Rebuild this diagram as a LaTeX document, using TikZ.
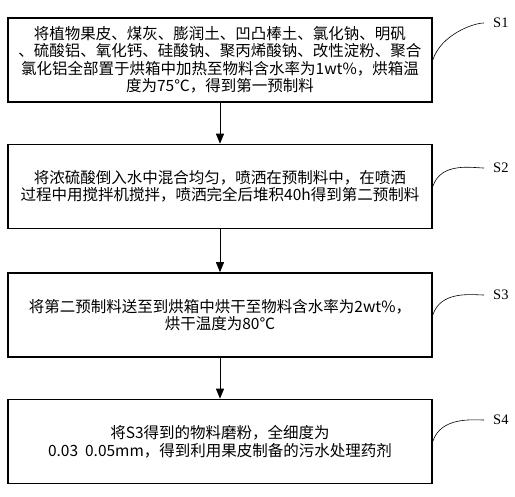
\documentclass[tikz,border=0pt]{standalone}
\usepackage{fontspec}
\setmainfont{Liberation Serif}
\newfontfamily\cjk{Noto Sans CJK SC}
\usetikzlibrary{arrows.meta}

\begin{document}
\begin{tikzpicture}[
    x=1pt, y=-1pt,
    stepbox/.style={
        draw=black,
        line width=1.6pt,
        minimum width=424pt,
        minimum height=84pt,
        align=center,
        inner sep=4pt,
        font=\cjk\fontsize{15.5}{17.5}\selectfont
    },
    flow/.style={
        -{Triangle[width=8pt,length=10pt]},
        draw=black,
        line width=0.8pt
    },
    leader/.style={
        draw=black,
        line width=0.6pt,
        shorten >=9pt
    },
    steplabel/.style={
        anchor=west,
        inner sep=0pt,
        font=\fontsize{14.5}{16}\selectfont
    }
]
    \useasboundingbox (0,0) rectangle (515,497);

    \node[stepbox] (s1) at (220,60)
        {将植物果皮、煤灰、膨润土、凹凸棒土、氯化钠、明矾\\
         {、}硫酸铝、氧化钙、硅酸钠、聚丙烯酸钠、改性淀粉、聚合\\
         氯化铝全部置于烘箱中加热至物料含水率为1wt\%，烘箱温\\
         度为75℃，得到第一预制料};
    \node[stepbox] (s2) at (220,186.5)
        {将浓硫酸倒入水中混合均匀，喷洒在预制料中，在喷洒\\
         过程中用搅拌机搅拌，喷洒完全后堆积40h得到第二预制料};
    \node[stepbox] (s3) at (220,315)
        {将第二预制料送至到烘箱中烘干至物料含水率为2wt\%，\\
         烘干温度为80℃};
    \node[stepbox] (s4) at (220,441.5)
        {将S3得到的物料磨粉，全细度为\\
         0.03\ \ 0.05mm，得到利用果皮制备的污水处理药剂};

    \node[steplabel] (l1) at (493,23) {S1};
    \node[steplabel] (l2) at (493,168) {S2};
    \node[steplabel] (l3) at (493,295) {S3};
    \node[steplabel] (l4) at (493,420) {S4};

    \draw[flow] (s1.south) -- (s2.north);
    \draw[flow] (s2.south) -- (s3.north);
    \draw[flow] (s3.south) -- (s4.north);

    \draw[leader] (s1.east) .. controls +(8,-25) and +(-20,0) .. (l1.west);
    \draw[leader] (s2.east) .. controls +(8,-25) and +(-20,0) .. (l2.west);
    \draw[leader] (s3.east) .. controls +(8,-25) and +(-20,0) .. (l3.west);
    \draw[leader] (s4.east) .. controls +(8,-25) and +(-20,0) .. (l4.west);
\end{tikzpicture}
\end{document}
